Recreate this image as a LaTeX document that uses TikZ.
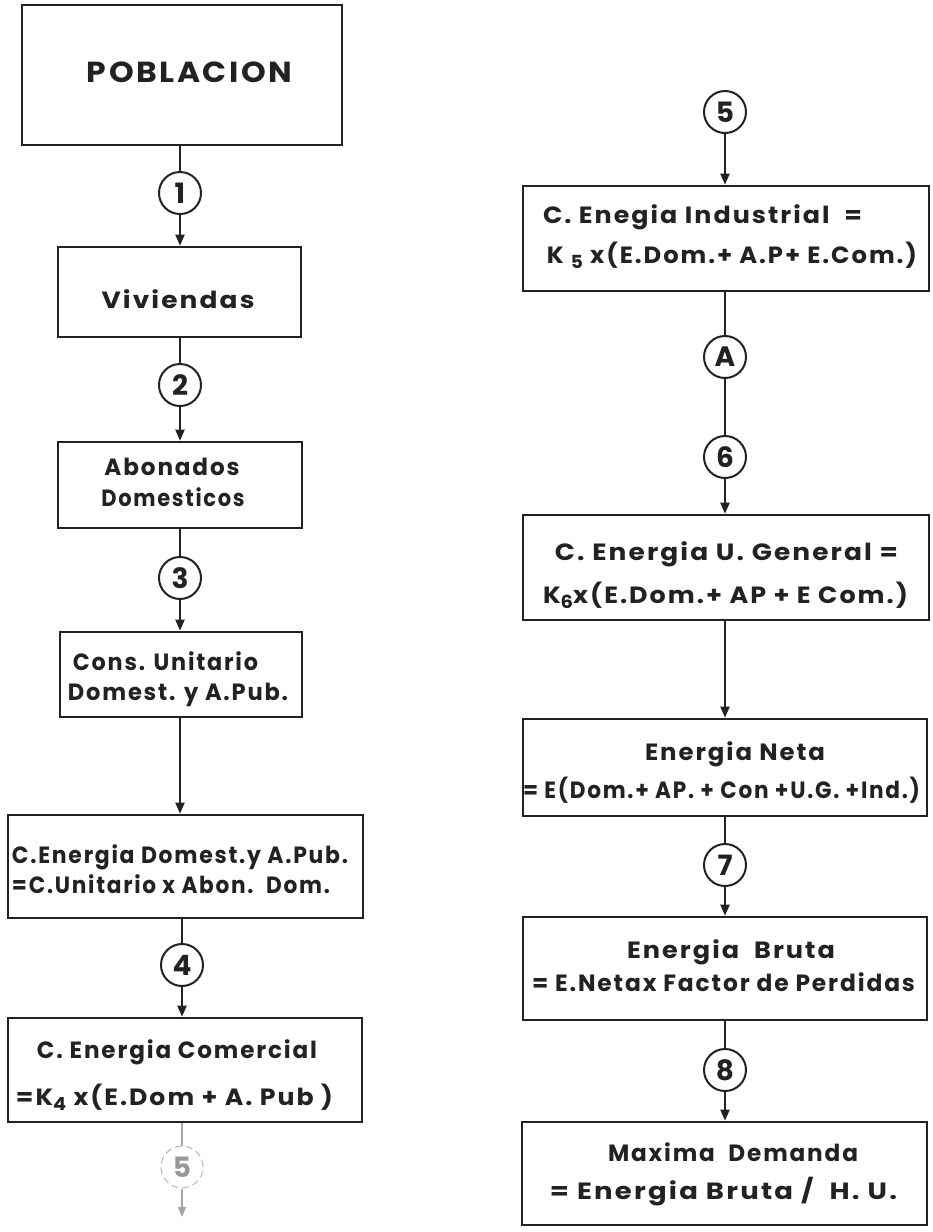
\documentclass[tikz,border=0pt]{standalone}
\usepackage{fontspec}
\usepackage{graphicx}
\setmainfont{Poppins}[LetterSpace=8]
\usetikzlibrary{arrows.meta}
\definecolor{ink}{HTML}{222222}
\newcommand{\fw}[2]{\resizebox{#1pt}{\height}{#2}}
\newcommand{\lowsub}[1]{\raisebox{-5pt}{\fontsize{18}{18}\selectfont #1}}
\tikzset{
  box/.style={draw=ink, line width=2.6pt, rectangle, inner sep=0pt},
  txt/.style={text=ink, font=\bfseries\fontsize{23.5}{23.5}\selectfont, inner sep=0pt,
              text height=16.4pt, text depth=0pt, anchor=center},
  bigtxt/.style={txt, font=\bfseries\fontsize{29}{29}\selectfont, text height=20pt},
  circ/.style={draw=ink, circle, line width=2pt, minimum size=42pt, inner sep=0pt,
               text=ink, font=\bfseries\fontsize{28}{28}\selectfont},
  faintcirc/.style={circ, draw=gray!55, line width=1pt, dash pattern=on 7pt off 4pt, text=gray!80},
  conn/.style={draw=ink, line width=2pt},
  faintconn/.style={draw=gray!70, line width=1.2pt},
  arr/.style={-{Triangle[length=11pt,width=9pt]}}
}
\begin{document}
\begin{tikzpicture}[x=1pt,y=-1pt]
\fill[white] (0,0) rectangle (933,1232);
\useasboundingbox (0,0) rectangle (933,1232);

% ---------- left column ----------
\node[box, minimum width=320pt, minimum height=140pt] (pob) at (182,75) {};
\node[bigtxt] (pobt) at (189.5,72) {\fw{205}{POBLACION}};

\node[circ] (c1) at (180,193) {1};

\node[box, minimum width=243pt, minimum height=90pt] (viv) at (179.5,292) {};
\node[txt] (vivt) at (178,300) {\fw{153}{Viviendas}};

\node[circ] (c2) at (180,385) {2};

\node[box, minimum width=244pt, minimum height=86pt] (abo) at (180,485) {};
\node[txt] (abo1) at (172,467) {\fw{135}{Abonados}};
\node[txt] (abo2) at (173,498) {\fw{143}{Domesticos}};

\node[circ] (c3) at (180,578) {3};

\node[box, minimum width=242pt, minimum height=85pt] (cons) at (181,674.5) {};
\node[txt] (cons1) at (165.5,662) {\fw{185}{Cons. Unitario}};
\node[txt] (cons2) at (178,692) {\fw{220}{Domest. y A.Pub.}};

\node[box, minimum width=355pt, minimum height=103pt] (cedom) at (185.5,866.5) {};
\node[txt] (cedom1) at (180,855) {\fw{336}{C.Energia Domest.y A.Pub.}};
\node[txt] (cedom2) at (171,885) {\fw{318}{=C.Unitario x Abon.\ \ Dom.}};

\node[circ] (c4) at (182,965) {4};

\node[box, minimum width=354pt, minimum height=104pt] (ccom) at (185,1070) {};
\node[txt] (ccom1) at (177,1050) {\fw{280}{C. Energia Comercial}};
\node[txt] (ccom2) at (174.5,1097) {\fw{317}{=K\lowsub{4} x(E.Dom + A. Pub )}};

\node[faintcirc] (c5l) at (182,1167) {5};
\coordinate (endl) at (182,1217);

\draw[conn] (c1 |- pob.south) -- (c1);
\draw[conn,arr] (c1) -- (c1 |- viv.north);
\draw[conn] (c2 |- viv.south) -- (c2);
\draw[conn,arr] (c2) -- (c2 |- abo.north);
\draw[conn] (c3 |- abo.south) -- (c3);
\draw[conn,arr] (c3) -- (c3 |- cons.north);
\draw[conn,arr] (c3 |- cons.south) -- (c3 |- cedom.north);
\draw[conn] (c4 |- cedom.south) -- (c4);
\draw[conn,arr] (c4) -- (c4 |- ccom.north);
\draw[faintconn] (c5l |- ccom.south) -- (c5l);
\draw[faintconn,-{Triangle[length=10pt,width=8pt]}] (c5l) -- (endl);

% ---------- right column ----------
\node[circ] (r5) at (725,112) {5};

\node[box, minimum width=406pt, minimum height=105pt] (ind) at (726,238.5) {};
\node[txt] (ind1) at (702.5,215) {\fw{319}{C. Enegia Industrial\ \ =}};
\node[txt] (ind2) at (732,255) {\fw{370}{K \lowsub{5} x(E.Dom.+ A.P+ E.Com.)}};

\node[circ] (cA) at (725,357) {A};
\node[circ] (c6) at (725,457) {6};

\node[box, minimum width=406pt, minimum height=105pt] (ug) at (726,567.5) {};
\node[txt] (ug1) at (726.5,552) {\fw{343}{C. Energia U. General =}};
\node[txt] (ug2) at (725.5,595) {\fw{365}{K\lowsub{6}x(E.Dom.+ AP + E Com.)}};

\node[box, minimum width=404pt, minimum height=97pt] (neta) at (725,767.5) {};
\node[txt] (neta1) at (735,752) {\fw{180}{Energia Neta}};
\node[txt] (neta2) at (721.5,790) {\fw{397}{= E(Dom.+ AP. + Con +U.G. +Ind.)}};

\node[circ] (c7) at (725,865) {7};

\node[box, minimum width=404pt, minimum height=103pt] (bruta) at (725,968.5) {};
\node[txt] (bruta1) at (731,950) {\fw{208}{Energia\ \ Bruta}};
\node[txt] (bruta2) at (723.5,983) {\fw{383}{= E.Netax Factor de Perdidas}};

\node[circ] (c8) at (725,1070) {8};

\node[box, minimum width=405pt, minimum height=103pt] (max) at (724.5,1173.5) {};
\node[txt] (max1) at (733,1153) {\fw{250}{Maxima\ \ Demanda}};
\node[txt] (max2) at (723.5,1191) {\fw{347}{= Energia Bruta /\ \ H. U.}};

\draw[conn,arr] (r5) -- (r5 |- ind.north);
\draw[conn] (cA |- ind.south) -- (cA);
\draw[conn] (cA) -- (c6);
\draw[conn,arr] (c6) -- (c6 |- ug.north);
\draw[conn,arr] (c6 |- ug.south) -- (c6 |- neta.north);
\draw[conn] (c7 |- neta.south) -- (c7);
\draw[conn,arr] (c7) -- (c7 |- bruta.north);
\draw[conn] (c8 |- bruta.south) -- (c8);
\draw[conn,arr] (c8) -- (c8 |- max.north);
\end{tikzpicture}
\end{document}
